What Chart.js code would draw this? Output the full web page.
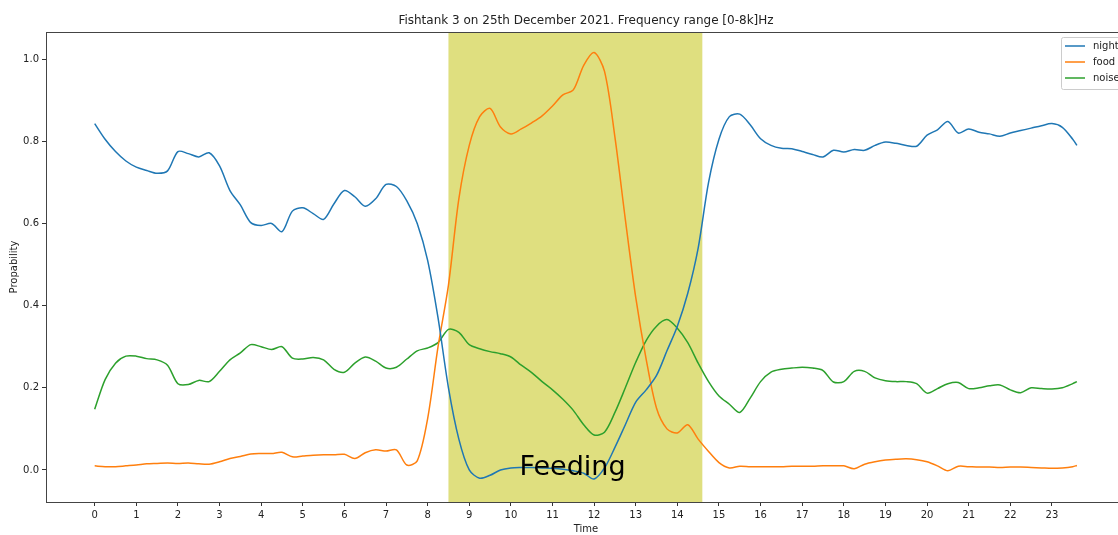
<!DOCTYPE html>
<html>
<head>
<meta charset="utf-8">
<script src="https://cdn.jsdelivr.net/npm/chart.js@4"></script>
<style>
  html, body { margin: 0; padding: 0; overflow: hidden; background: #fff; }
</style>
</head>
<body>
<canvas id="myChart" width="1126" height="535"></canvas>
<script>
// hours of the day (x values)
const hours = [0, 0.25, 0.5, 0.75, 1, 1.25, 1.5, 1.75, 2, 2.25, 2.5, 2.75,
  3, 3.25, 3.5, 3.75, 4, 4.25, 4.5, 4.75, 5, 5.25, 5.5, 5.75,
  6, 6.25, 6.5, 6.75, 7, 7.25, 7.5, 7.75, 8, 8.25, 8.5, 8.75,
  9, 9.25, 9.5, 9.75, 10, 10.25, 10.5, 10.75, 11, 11.25, 11.5, 11.75,
  12, 12.25, 12.5, 12.75, 13, 13.25, 13.5, 13.75, 14, 14.25, 14.5, 14.75,
  15, 15.25, 15.5, 15.75, 16, 16.25, 16.5, 16.75, 17, 17.25, 17.5, 17.75,
  18, 18.25, 18.5, 18.75, 19, 19.25, 19.5, 19.75, 20, 20.25, 20.5, 20.75,
  21, 21.25, 21.5, 21.75, 22, 22.25, 22.5, 22.75, 23, 23.25, 23.5, 23.6]

const night = [0.843, 0.805, 0.775, 0.752, 0.737, 0.729, 0.722, 0.728, 0.775, 0.77, 0.762, 0.772,
  0.74, 0.68, 0.645, 0.602, 0.595, 0.6, 0.58, 0.63, 0.638, 0.624, 0.61, 0.648,
  0.68, 0.665, 0.642, 0.66, 0.695, 0.69, 0.655, 0.6, 0.51, 0.37, 0.2, 0.075,
  0.0, -0.02, -0.013, 0.0, 0.005, 0.006, 0.006, 0.005, 0.004, 0.002, -0.002, -0.008,
  -0.022, 0.005, 0.055, 0.11, 0.165, 0.195, 0.23, 0.29, 0.35, 0.43, 0.54, 0.7,
  0.805, 0.86, 0.866, 0.84, 0.806, 0.79, 0.783, 0.782, 0.775, 0.768, 0.762, 0.778,
  0.774, 0.78, 0.778, 0.79, 0.798, 0.795, 0.79, 0.788, 0.815, 0.828, 0.848, 0.82,
  0.83, 0.822, 0.818, 0.812, 0.82, 0.826, 0.832, 0.838, 0.843, 0.834, 0.805, 0.79]

const food = [0.01, 0.008, 0.008, 0.01, 0.012, 0.015, 0.016, 0.017, 0.016, 0.017, 0.015, 0.014,
  0.02, 0.028, 0.033, 0.039, 0.04, 0.04, 0.043, 0.032, 0.034, 0.036, 0.037, 0.037,
  0.038, 0.028, 0.042, 0.049, 0.046, 0.049, 0.012, 0.022, 0.125, 0.3, 0.45, 0.66,
  0.79, 0.86, 0.88, 0.835, 0.818, 0.83, 0.845, 0.862, 0.886, 0.913, 0.925, 0.985,
  1.016, 0.97, 0.81, 0.61, 0.42, 0.27, 0.15, 0.1, 0.09, 0.11, 0.075, 0.045,
  0.018, 0.005, 0.009, 0.008, 0.008, 0.008, 0.008, 0.009, 0.009, 0.009, 0.01, 0.01,
  0.01, 0.003, 0.014, 0.02, 0.024, 0.026, 0.027, 0.025, 0.02, 0.01, -0.002, 0.009,
  0.008, 0.007, 0.007, 0.006, 0.007, 0.007, 0.006, 0.005, 0.004, 0.005, 0.008, 0.011]

const noise = [0.148, 0.22, 0.26, 0.277, 0.277, 0.271, 0.268, 0.255, 0.21, 0.208, 0.218, 0.215,
  0.24, 0.268, 0.285, 0.305, 0.3, 0.293, 0.3, 0.272, 0.27, 0.274, 0.268, 0.245,
  0.238, 0.26, 0.275, 0.265, 0.248, 0.25, 0.27, 0.29, 0.297, 0.31, 0.342, 0.335,
  0.305, 0.295, 0.288, 0.283, 0.275, 0.255, 0.237, 0.215, 0.195, 0.172, 0.145, 0.11,
  0.085, 0.092, 0.14, 0.2, 0.262, 0.315, 0.35, 0.366, 0.345, 0.31, 0.26, 0.215,
  0.18, 0.16, 0.14, 0.175, 0.215, 0.238, 0.245, 0.248, 0.25, 0.248, 0.242, 0.214,
  0.215, 0.24, 0.24, 0.224, 0.217, 0.215, 0.215, 0.21, 0.187, 0.198, 0.21, 0.213,
  0.198, 0.2, 0.205, 0.207, 0.195, 0.188, 0.2, 0.198, 0.197, 0.2, 0.21, 0.215]

const xTicks = [0, 1, 2, 3, 4, 5, 6, 7, 8, 9, 10, 11, 12, 13, 14, 15, 16, 17, 18, 19, 20, 21, 22, 23]
const yTicks = [0.0, 0.2, 0.4, 0.6, 0.8, 1.0]
const seriesNames = ['night', 'food', 'noise']
const seriesColors = ['#1f77b4', '#ff7f0e', '#2ca02c']
const feedingSpan = [8.5, 14.6]

const FONT = '"DejaVu Sans", sans-serif'

function toPoints(values) {
  return hours.map((h, i) => ({ x: h, y: values[i] }))
}

// yellow band, titles, legend and frame drawn by hand to look like the original
const decor = {
  id: 'decor',
  beforeDatasetsDraw(chart) {
    const ctx = chart.ctx
    const a = chart.chartArea
    const x = chart.scales.x
    const x0 = x.getPixelForValue(feedingSpan[0])
    const x1 = x.getPixelForValue(feedingSpan[1])
    ctx.save()
    ctx.fillStyle = 'rgba(191,191,0,0.5)'
    ctx.fillRect(x0, a.top, x1 - x0, a.bottom - a.top)
    ctx.restore()
  },
  afterDatasetsDraw(chart) {
    const ctx = chart.ctx
    const a = chart.chartArea
    const x = chart.scales.x
    const y = chart.scales.y
    ctx.save()

    // frame
    ctx.strokeStyle = '#444'
    ctx.lineWidth = 1
    ctx.strokeRect(a.left + 0.5, a.top + 0.5, a.right - a.left - 1, a.bottom - a.top)

    // feeding label
    ctx.fillStyle = '#000'
    ctx.font = '27px ' + FONT
    ctx.textAlign = 'center'
    ctx.textBaseline = 'middle'
    ctx.fillText('Feeding', x.getPixelForValue(11.48), y.getPixelForValue(0.006))

    // title
    ctx.fillStyle = '#222'
    ctx.font = '12px ' + FONT
    ctx.textBaseline = 'alphabetic'
    ctx.fillText('Fishtank 3 on 25th December 2021. Frequency range [0-8k]Hz', (a.left + a.right) / 2, 24)

    // axis titles
    ctx.font = '10px ' + FONT
    ctx.fillText('Time', (a.left + a.right) / 2, 532)
    ctx.save()
    ctx.translate(17, (a.top + a.bottom) / 2)
    ctx.rotate(-Math.PI / 2)
    ctx.fillText('Propability', 0, 0)
    ctx.restore()

    // legend
    const lx = 1061, ly = 37
    ctx.fillStyle = 'rgba(255,255,255,0.8)'
    ctx.strokeStyle = '#ccc'
    ctx.beginPath()
    ctx.roundRect(lx + 0.5, ly + 0.5, 70, 52, 2)
    ctx.fill()
    ctx.stroke()
    ctx.font = '10px ' + FONT
    ctx.textAlign = 'left'
    ctx.textBaseline = 'middle'
    seriesNames.forEach((name, i) => {
      const yy = ly + 9 + i * 16
      ctx.strokeStyle = seriesColors[i]
      ctx.lineWidth = 1.5
      ctx.beginPath()
      ctx.moveTo(lx + 4, yy)
      ctx.lineTo(lx + 24, yy)
      ctx.stroke()
      ctx.fillStyle = '#222'
      ctx.fillText(name, lx + 32, yy)
    })
    ctx.restore()
  }
}

var ctx = document.getElementById('myChart').getContext('2d')
var chart = new Chart(ctx, {
  type: 'line',
  data: {
    datasets: seriesNames.map((name, i) => ({
      label: name,
      data: toPoints([night, food, noise][i]),
      borderColor: seriesColors[i],
      backgroundColor: seriesColors[i],
      borderWidth: 1.5,
      pointRadius: 0,
      tension: 0.3,
      fill: false
    }))
  },
  options: {
    responsive: false,
    animation: false,
    layout: { padding: { top: 32, left: 0, right: 0, bottom: 0 } },
    plugins: {
      legend: { display: false },
      title: { display: false },
      tooltip: { enabled: false }
    },
    scales: {
      x: {
        type: 'linear',
        min: -1.17,
        max: 24.78,
        afterBuildTicks: s => { s.ticks = xTicks.map(v => ({ value: v })) },
        afterFit: s => { s.height = 33 },
        ticks: {
          autoSkip: false, maxRotation: 0, padding: 3,
          color: '#222', font: { family: FONT, size: 10 },
          callback: v => String(v)
        },
        grid: { drawOnChartArea: false, drawTicks: true, tickLength: 4, color: '#333' },
        border: { display: false }
      },
      y: {
        min: -0.078,
        max: 1.066,
        afterBuildTicks: s => { s.ticks = yTicks.map(v => ({ value: v })) },
        afterFit: s => { s.width = 46 },
        ticks: {
          padding: 3, color: '#222', font: { family: FONT, size: 10 },
          callback: v => v.toFixed(1)
        },
        grid: { drawOnChartArea: false, drawTicks: true, tickLength: 4, color: '#333' },
        border: { display: false }
      }
    }
  },
  plugins: [decor]
})
</script>
</body>
</html>
